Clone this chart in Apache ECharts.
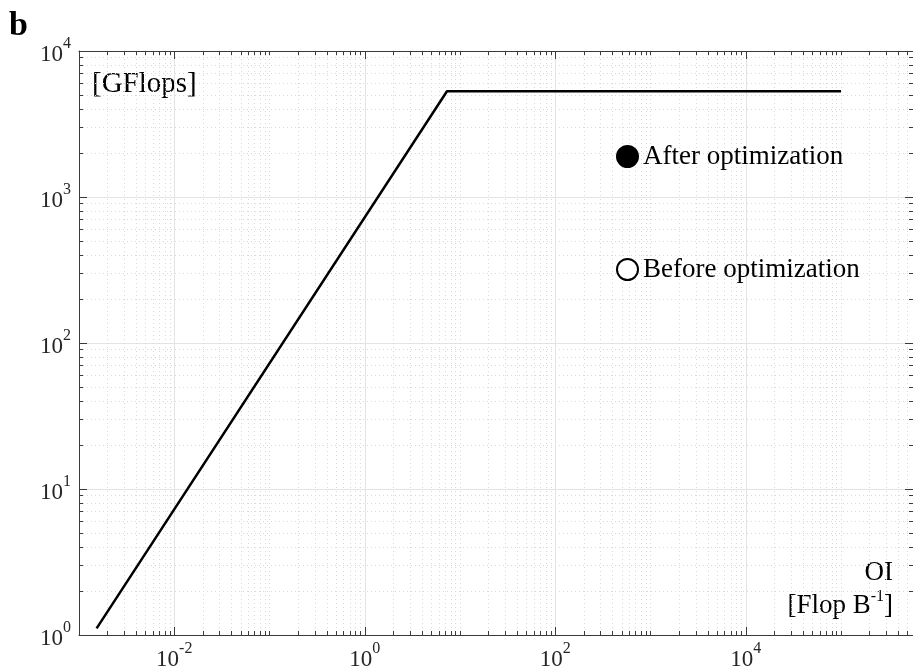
<!DOCTYPE html>
<html>
<head>
<meta charset="utf-8">
<script src="https://cdn.jsdelivr.net/npm/echarts@6/dist/echarts.min.js"></script>
<style>
  html, body { margin: 0; padding: 0; background: #fff; }
  #chart { width: 913px; height: 671px; }
</style>
</head>
<body>
<div id="chart"></div>
<script>
// Roofline model: memory-bound slope rising into the compute ceiling.
const oiValues   = [0.00153, 7.3, 1e5];     // operational intensity [Flop/B]
const perfValues = [1.11, 5300, 5300];      // attainable performance [GFlops]

// Measured kernels (legend entries only)
const afterPoints  = [];
const beforePoints = [];

// Axis ranges and tick positions
const xRange = [1e-3, 5.7e5];
const yRange = [1, 1e4];
const xMajorTicks = [1e-2, 1, 1e2, 1e4];
const yMajorTicks = [1, 10, 100, 1000, 10000];
const xDecades = [-3, -2, -1, 0, 1, 2, 3, 4, 5];
const yDecades = [0, 1, 2, 3];
const mantissas = [1, 2, 3, 4, 5, 6, 7, 8, 9];

const FONT = '"Liberation Serif", "Times New Roman", serif';

function minorTicks(decades, majors, range) {
  const out = [];
  decades.forEach(k => {
    mantissas.forEach(m => {
      const v = +(m * Math.pow(10, k)).toPrecision(6);
      if (v < range[0] || v > range[1]) return;
      if (majors.some(t => Math.abs(t - v) / t < 1e-9)) return;
      out.push(v);
    });
  });
  return out;
}
const xMinorTicks = minorTicks(xDecades, xMajorTicks, xRange);
const yMinorTicks = minorTicks(yDecades, yMajorTicks, yRange);

function powLabel(v) {
  const e = Math.round(Math.log10(v));
  return '{b|10}{s|' + (e < 0 ? '-' + (-e) : e) + '}';
}
const labelRich = {
  b: { fontFamily: FONT, fontSize: 23, color: '#262626', lineHeight: 30, verticalAlign: 'bottom' },
  s: { fontFamily: FONT, fontSize: 16, color: '#262626', lineHeight: 30, verticalAlign: 'top' }
};

const AXIS_COLOR = '#3a3a3a';
const MAJOR_GRID = { show: true, lineStyle: { color: '#e4e4e4', width: 1, type: 'solid' } };
const MINOR_GRID = { show: true, lineStyle: { color: '#d9d9d9', width: 1, type: [1, 3] } };

function axis(range, position, opts) {
  return Object.assign({
    type: 'log',
    logBase: 10,
    min: range[0],
    max: range[1],
    position: position,
    axisLine: { show: false, onZero: false },
    axisTick: { show: false },
    axisLabel: { show: false },
    splitLine: { show: false },
    minorTick: { show: false },
    minorSplitLine: { show: false }
  }, opts);
}

function ticks(values, len) {
  return { show: true, inside: true, length: len, customValues: values,
           lineStyle: { color: AXIS_COLOR, width: 1 } };
}

const xAxes = [
  axis(xRange, 'bottom', {
    axisLine: { show: true, onZero: false, lineStyle: { color: AXIS_COLOR, width: 1 } },
    axisTick: ticks(xMajorTicks, 8),
    axisLabel: { show: true, customValues: xMajorTicks, margin: 6,
                 formatter: powLabel, rich: labelRich },
    splitLine: MAJOR_GRID
  }),
  axis(xRange, 'bottom', { axisTick: ticks(xMinorTicks, 4), splitLine: MINOR_GRID }),
  axis(xRange, 'top', {
    axisLine: { show: true, onZero: false, lineStyle: { color: AXIS_COLOR, width: 1 } },
    axisTick: ticks(xMajorTicks, 8)
  }),
  axis(xRange, 'top', { axisTick: ticks(xMinorTicks, 4) })
];

const yAxes = [
  axis(yRange, 'left', {
    axisLine: { show: true, onZero: false, lineStyle: { color: AXIS_COLOR, width: 1 } },
    axisTick: ticks(yMajorTicks, 8),
    axisLabel: { show: true, customValues: yMajorTicks, margin: 8,
                 formatter: powLabel, rich: labelRich },
    splitLine: MAJOR_GRID
  }),
  axis(yRange, 'left', { axisTick: ticks(yMinorTicks, 4), splitLine: MINOR_GRID }),
  axis(yRange, 'right', {
    axisLine: { show: true, onZero: false, lineStyle: { color: AXIS_COLOR, width: 1 } },
    axisTick: ticks(yMajorTicks, 8)
  }),
  axis(yRange, 'right', { axisTick: ticks(yMinorTicks, 4) })
];

const legendText = { fontFamily: FONT, fontSize: 27, color: '#000' };

const chart = echarts.init(document.getElementById('chart'), null, { renderer: 'canvas' });
chart.setOption({
  animation: false,
  backgroundColor: '#fff',
  grid: { left: 79, right: 0, top: 51, bottom: 35, containLabel: false },
  xAxis: xAxes,
  yAxis: yAxes,
  legend: [
    { data: ['After optimization'], left: 616, top: 143, padding: 0,
      icon: 'circle', itemWidth: 21, itemHeight: 21, textStyle: legendText, selectedMode: false },
    { data: ['Before optimization'], left: 616, top: 256, padding: 0,
      icon: 'circle', itemWidth: 21, itemHeight: 21, textStyle: legendText, selectedMode: false }
  ],
  graphic: [
    { type: 'text', left: 9, top: 9,
      style: { text: 'b', font: 'bold 34px ' + FONT, fill: '#000' } },
    { type: 'text', left: 92, top: 70,
      style: { text: '[GFlops]', font: '29px ' + FONT, fill: '#000' } },
    { type: 'text', right: 20, top: 559,
      style: { text: 'OI', font: '27px ' + FONT, fill: '#000', align: 'right' } },
    { type: 'text', right: 20, top: 589,
      style: { text: '{t|[Flop B}{s|-1}{t|]}', fill: '#000', align: 'right',
               rich: {
                 t: { fontFamily: FONT, fontSize: 27, lineHeight: 30, verticalAlign: 'bottom', fill: '#000' },
                 s: { fontFamily: FONT, fontSize: 16, lineHeight: 30, verticalAlign: 'top', fill: '#000' }
               } } }
  ],
  series: [
    {
      name: 'Roofline',
      type: 'line',
      xAxisIndex: 0, yAxisIndex: 0,
      data: oiValues.map((x, i) => [x, perfValues[i]]),
      symbol: 'none',
      lineStyle: { color: '#000', width: 2.5 },
      silent: true,
      z: 5
    },
    {
      name: 'After optimization',
      type: 'scatter',
      xAxisIndex: 0, yAxisIndex: 0,
      data: afterPoints,
      symbol: 'circle',
      itemStyle: { color: '#000', borderColor: '#000', borderWidth: 1, opacity: 1 }
    },
    {
      name: 'Before optimization',
      type: 'scatter',
      xAxisIndex: 0, yAxisIndex: 0,
      data: beforePoints,
      symbol: 'circle',
      itemStyle: { color: '#fff', borderColor: '#000', borderWidth: 1, opacity: 1 }
    }
  ]
});
</script>
</body>
</html>
